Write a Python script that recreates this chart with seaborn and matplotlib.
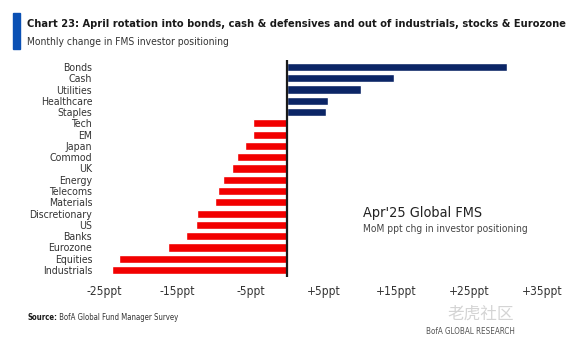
import matplotlib
matplotlib.use("Agg")
import matplotlib.pyplot as plt
from matplotlib import font_manager
import seaborn as sns
import pandas as pd

categories = ["Bonds", "Cash", "Utilities", "Healthcare", "Staples", "Tech", "EM",
              "Japan", "Commod", "UK", "Energy", "Telecoms", "Materials",
              "Discretionary", "US", "Banks", "Eurozone", "Equities", "Industrials"]
values = [30.2, 14.6, 10.1, 5.6, 5.3, -4.6, -4.6, -5.7, -6.8, -7.5, -8.8, -9.5, -9.9,
          -12.3, -12.4, -13.8, -16.3, -23.0, -24.0]
tick_values = [-25, -15, -5, 5, 15, 25, 35]
tick_labels = ["-25ppt", "-15ppt", "-5ppt", "+5ppt", "+15ppt", "+25ppt", "+35ppt"]

NAVY = "#0b2566"
RED = "#f20000"

sns.set_theme(style="white")

fonts = font_manager.fontManager.ttflist
names = {f.name for f in fonts}
stretch = "normal"
if "Liberation Sans Narrow" in names:
    fam = "Liberation Sans Narrow"
elif any(f.name == "DejaVu Sans" and f.stretch in ("condensed", "semi-condensed") for f in fonts):
    fam = "DejaVu Sans"
    stretch = "condensed"
elif "Roboto Condensed" in names:
    fam = "Roboto Condensed"
else:
    fam = "Liberation Sans"
plt.rcParams["font.family"] = [fam, "DejaVu Sans"]
plt.rcParams["font.stretch"] = stretch

W, H = 571, 346
fig = plt.figure(figsize=(W / 100, H / 100), dpi=100)
renderer = fig.canvas.get_renderer()


def fit(t, target_px, maxsize):
    """shrink a text's font size so its width matches the reference width"""
    t.set_fontsize(maxsize)
    w = t.get_window_extent(renderer).width
    if w > target_px:
        t.set_fontsize(maxsize * target_px / w)
    return t


xmin, xmax = -26.5, 35.0
ppu = 7.3
zero_px = 287
left_px = zero_px + xmin * ppu
right_px = zero_px + xmax * ppu
top_px, bot_px = 60.2, 276.8
ax = fig.add_axes([left_px / W, 1 - bot_px / H, (right_px - left_px) / W, (bot_px - top_px) / H])

df = pd.DataFrame({"cat": categories, "val": values})
df["sign"] = ["pos" if v > 0 else "neg" for v in values]
sns.barplot(data=df, y="cat", x="val", hue="sign", palette={"pos": NAVY, "neg": RED},
            orient="h", width=0.72, legend=False, ax=ax, saturation=1)

ax.set_xlim(xmin, xmax)
ax.set_ylim(len(categories) - 1 + 0.6, -0.6)
ax.axvline(0, color="#1a1a1a", lw=1.6, zorder=5)
for s in ax.spines.values():
    s.set_visible(False)
ax.set_xlabel("")
ax.set_ylabel("")
ax.set_xticks(tick_values)
ax.set_xticklabels(tick_labels)
ax.tick_params(axis="x", length=0, pad=6, labelcolor="#333333")
ax.tick_params(axis="y", length=0, pad=1, labelcolor="#333333")

# size tick labels to the reference widths
probe = fig.text(0, 0, "Discretionary", fontsize=10)
fit(probe, 63, 10)
ysize = probe.get_fontsize()
probe.remove()
probe = fig.text(0, 0, "-25ppt", fontsize=10)
fit(probe, 35, 10)
xsize = probe.get_fontsize()
probe.remove()
ax.tick_params(axis="y", labelsize=ysize)
ax.tick_params(axis="x", labelsize=xsize)

# header
fig.patches.append(plt.Rectangle((13 / W, 1 - 49 / H), 7 / W, 36 / H, transform=fig.transFigure,
                                 color="#0a50b4", zorder=3))
fit(fig.text(27 / W, 1 - 24 / H,
             "Chart 23: April rotation into bonds, cash & defensives and out of industrials, stocks & Eurozone",
             fontweight="bold", color="#1a1a1a", va="center", ha="left"), 530, 10)
fit(fig.text(27 / W, 1 - 42 / H, "Monthly change in FMS investor positioning",
             color="#333333", va="center", ha="left"), 204, 9.5)

# annotation
fit(fig.text(363 / W, 1 - 213 / H, "Apr'25 Global FMS", color="#222222", va="center", ha="left"), 118, 13)
fit(fig.text(363 / W, 1 - 229 / H, "MoM ppt chg in investor positioning", color="#444444",
             va="center", ha="left"), 164, 9)

# footer: size both parts together so the whole line spans the reference width
src_size = 8.0
src = fig.text(27 / W, 1 - 318 / H, "Source:", fontweight="bold", color="#1a1a1a",
               va="center", ha="left", fontsize=src_size)
rest = fig.text(0, 1 - 318 / H, " BofA Global Fund Manager Survey", color="#333333",
                va="center", ha="left", fontsize=src_size)
total = src.get_window_extent(renderer).width + rest.get_window_extent(renderer).width
src_size = src_size * min(1.0, 151 / total)
src.set_fontsize(src_size)
rest.set_fontsize(src_size)
rest.set_x((27 + src.get_window_extent(renderer).width) / W)

fit(fig.text(515 / W, 1 - 331 / H, "BofA GLOBAL RESEARCH", color="#555555", va="center", ha="right"),
    89, 8)
fig.text(514 / W, 1 - 314 / H, "老虎社区", fontsize=12, color="#d4d4d4", va="center", ha="right",
         family=["Noto Sans CJK SC", "DejaVu Sans"])

fig.savefig("out.png", dpi=100, facecolor="white")
